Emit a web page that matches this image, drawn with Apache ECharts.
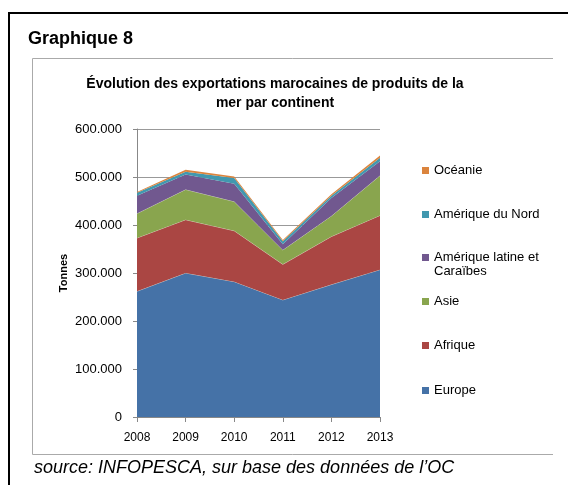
<!DOCTYPE html>
<html>
<head>
<meta charset="utf-8">
<script src="https://cdn.jsdelivr.net/npm/echarts@6/dist/echarts.min.js"></script>
<style>
  html, body { margin: 0; padding: 0; background: #fff; }
  #chart { width: 568px; height: 485px; }
</style>
</head>
<body>
<div id="chart"></div>
<script>
// données (tonnes)
const years = ['2008', '2009', '2010', '2011', '2012', '2013']
const europe = [262000, 300000, 282000, 244000, 276000, 307000]
const afrique = [111000, 111000, 106000, 74000, 100000, 113000]
const asie = [51000, 63000, 61000, 30000, 43000, 83000]
const ameriqueLatine = [37000, 31000, 37000, 12000, 37000, 30000]
const ameriqueNord = [6000, 6000, 12000, 6000, 5000, 7000]
const oceanie = [2000, 4000, 3000, 3000, 3000, 5000]

const names = ['Europe', 'Afrique', 'Asie', 'Amérique latine et', 'Amérique du Nord', 'Océanie']
const colors = ['#4572A7', '#AA4643', '#89A54E', '#71588F', '#4198AF', '#DB843D']
const values = [europe, afrique, asie, ameriqueLatine, ameriqueNord, oceanie]
const legendTop = [386, 341, 297, 253, 210, 166]

const font = 'Liberation Sans'
const chart = echarts.init(document.getElementById('chart'))

const fmt = v => v === 0 ? '0' : v.toLocaleString('de-DE', { minimumFractionDigits: 0 })

const option = {
  animation: false,
  textStyle: { fontFamily: font },
  grid: { left: 137, right: 188, top: 129, bottom: 68 },
  xAxis: {
    type: 'category',
    data: years,
    boundaryGap: false,
    axisLine: { lineStyle: { color: '#888' } },
    axisTick: { alignWithLabel: true, length: 5, lineStyle: { color: '#888' } },
    axisLabel: { color: '#000', fontSize: 12, margin: 15, fontFamily: font }
  },
  yAxis: {
    type: 'value',
    min: 0,
    max: 600000,
    interval: 100000,
    name: 'Tonnes',
    nameLocation: 'middle',
    nameGap: 68,
    nameTextStyle: { fontWeight: 'bold', fontSize: 11, color: '#000', fontFamily: font },
    axisLine: { show: true, lineStyle: { color: '#888' } },
    axisTick: { show: true, length: 4, lineStyle: { color: '#888' } },
    splitLine: { lineStyle: { color: '#999' } },
    axisLabel: { color: '#000', fontSize: 13, margin: 15, fontFamily: font, formatter: fmt }
  },
  legend: names.map((n, i) => ({
    data: [n],
    left: 417,
    top: legendTop[i] - 7,
    orient: 'vertical',
    itemWidth: 7,
    itemHeight: 7,
    itemGap: 6,
    icon: 'rect',
    selectedMode: false,
    textStyle: { fontSize: 13, color: '#000', fontFamily: font }
  })),
  series: names.map((n, i) => ({
    name: n,
    type: 'line',
    stack: 'total',
    data: values[i],
    symbol: 'none',
    color: colors[i],
    lineStyle: { width: i < 3 ? 0.6 : 0, color: '#e8e8d8' },
    areaStyle: { color: colors[i], opacity: 1 },
    z: 2 + i
  })),
  graphic: [
    // cadre extérieur
    { type: 'polyline', shape: { points: [[9, 490], [9, 13], [570, 13]] },
      style: { stroke: '#000', lineWidth: 2, fill: null } },
    // cadre du graphique
    { type: 'polyline', shape: { points: [[553, 454.5], [32.5, 454.5], [32.5, 58.5], [553, 58.5]] },
      style: { stroke: '#aaa', lineWidth: 1, fill: null } },
    { type: 'text', x: 28, y: 30,
      style: { text: 'Graphique 8', font: 'bold 18px "' + font + '"', fill: '#000' } },
    { type: 'text', x: 275, y: 75,
      style: { text: 'Évolution des exportations marocaines de produits de la\nmer par continent',
        font: 'bold 14px "' + font + '"', fill: '#000', align: 'center', lineHeight: 19 } },
    { type: 'text', x: 434, y: 265,
      style: { text: 'Caraïbes', font: '13px "' + font + '"', fill: '#000' } },
    { type: 'text', x: 34, y: 459,
      style: { text: 'source: INFOPESCA, sur base des données de l\u2019OC', font: 'italic 18px "' + font + '"', fill: '#000' } }
  ]
}
chart.setOption(option)
</script>
</body>
</html>
